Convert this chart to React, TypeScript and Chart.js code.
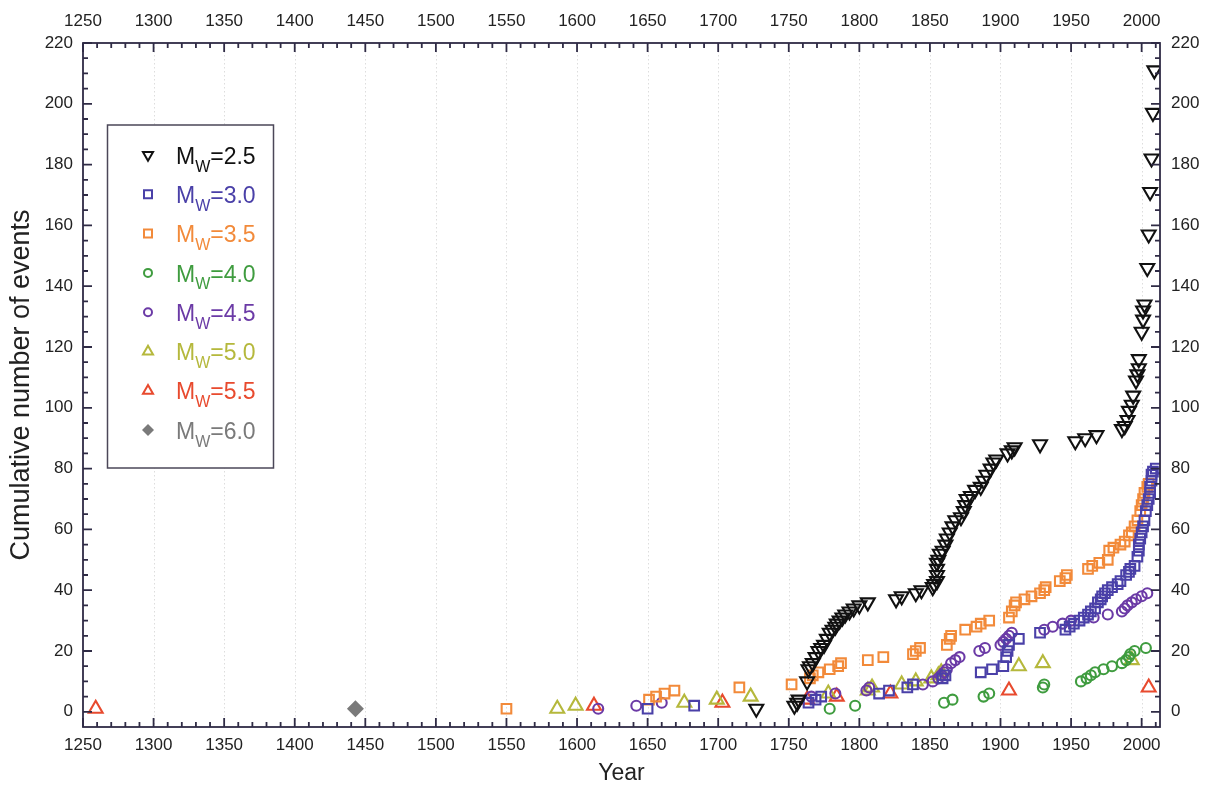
import React, { useEffect, useRef } from 'react';
import { Chart, registerables } from 'chart.js';

Chart.register(...registerables);

const FONT = '"Liberation Sans", Arial, sans-serif';
const AXIS_COLOR = '#2f2b45';
const TEXT_COLOR = '#222222';

const X_MIN = 1250;
const X_MAX = 2013;
const Y_MIN = -5;
const Y_MAX = 220;
const X_TICKS = [1250, 1300, 1350, 1400, 1450, 1500, 1550, 1600, 1650, 1700, 1750, 1800, 1850, 1900, 1950, 2000];
const Y_TICKS = [0, 20, 40, 60, 80, 100, 120, 140, 160, 180, 200, 220];
const X_MINOR_STEP = 10;
const Y_MINOR_STEP = 5;

const MAGNITUDES = ['2.5', '3.0', '3.5', '4.0', '4.5', '5.0', '5.5', '6.0'];

// [year, cumulative number of events]
const MW25: number[][] = [
  [1727, 1], [1754, 2], [1756, 3], [1757, 4], [1763, 10], [1764, 14], [1765, 15], [1767, 16], [1769, 18],
  [1771, 20], [1773, 21], [1775, 22], [1777, 24], [1779, 26], [1781, 27], [1783, 28], [1784, 29], [1786, 30],
  [1788, 31], [1790, 32], [1793, 33], [1796, 34], [1800, 35], [1806, 36], [1826, 37], [1830, 38], [1840, 39],
  [1844, 40], [1852, 41], [1853, 42], [1855, 43], [1855, 45], [1855, 47], [1855, 49], [1856, 50], [1857, 52],
  [1859, 53], [1861, 55], [1862, 57], [1864, 59], [1866, 61], [1868, 63], [1872, 64], [1874, 66], [1875, 68],
  [1876, 70], [1879, 71], [1882, 73], [1886, 74], [1888, 76], [1890, 78], [1893, 80], [1895, 82], [1897, 83],
  [1905, 85], [1908, 86], [1910, 87], [1928, 88], [1953, 89], [1960, 90], [1968, 91], [1986, 93], [1988, 94],
  [1990, 96], [1991, 99], [1993, 101], [1994, 104], [1996, 109], [1997, 111], [1998, 113], [1998, 116],
  [2000, 125], [2001, 129], [2001, 132], [2002, 134], [2004, 146], [2005, 157], [2006, 171], [2007, 182],
  [2008, 197], [2009, 211],
];
const MW30: number[][] = [
  [1650, 1], [1683, 2], [1764, 3], [1769, 4], [1773, 5], [1814, 6], [1821, 7], [1834, 8], [1838, 9], [1859, 11],
  [1861, 12], [1886, 13], [1894, 14], [1902, 15], [1904, 18], [1905, 20], [1906, 22], [1913, 24], [1928, 26],
  [1946, 27], [1949, 28], [1952, 29], [1956, 30], [1959, 31], [1962, 32], [1964, 33], [1967, 34], [1969, 36],
  [1971, 37], [1972, 38], [1974, 39], [1976, 40], [1979, 41], [1983, 42], [1985, 43], [1989, 45], [1991, 46],
  [1992, 47], [1995, 48], [1997, 51], [1998, 53], [1998, 55], [1999, 57], [2000, 59], [2001, 61], [2002, 63],
  [2003, 66], [2004, 68], [2005, 70], [2006, 72], [2006, 74], [2007, 76], [2007, 78], [2008, 79], [2010, 80],
];
const MW35: number[][] = [
  [1550, 1], [1651, 4], [1656, 5], [1662, 6], [1669, 7], [1715, 8], [1752, 9], [1765, 11], [1767, 12], [1771, 13],
  [1779, 14], [1785, 15], [1787, 16], [1806, 17], [1817, 18], [1838, 19], [1840, 20], [1843, 21], [1862, 22],
  [1864, 24], [1865, 25], [1875, 27], [1883, 28], [1886, 29], [1892, 30], [1906, 31], [1908, 33], [1910, 35],
  [1911, 36], [1917, 37], [1922, 38], [1928, 39], [1931, 40], [1932, 41], [1942, 43], [1946, 44], [1947, 45],
  [1962, 47], [1965, 48], [1970, 49], [1976, 50], [1977, 53], [1980, 54], [1985, 55], [1988, 56], [1991, 58],
  [1993, 59], [1995, 61], [1997, 63], [1999, 66], [2000, 68], [2001, 70], [2002, 72], [2004, 74], [2005, 75],
];
const MW40: number[][] = [
  [1779, 1], [1797, 2], [1860, 3], [1866, 4], [1888, 5], [1892, 6], [1930, 8], [1931, 9], [1957, 10], [1961, 11],
  [1964, 12], [1967, 13], [1973, 14], [1979, 15], [1986, 16], [1989, 17], [1991, 18], [1992, 19], [1995, 20],
  [2003, 21],
];
const MW45: number[][] = [
  [1615, 1], [1642, 2], [1660, 3], [1766, 5], [1783, 6], [1805, 7], [1807, 8], [1845, 9], [1852, 10], [1856, 11],
  [1858, 12], [1860, 13], [1862, 14], [1865, 16], [1868, 17], [1871, 18], [1885, 20], [1889, 21], [1900, 22],
  [1902, 23], [1904, 24], [1906, 25], [1908, 26], [1931, 27], [1937, 28], [1944, 29], [1950, 30], [1966, 31],
  [1976, 32], [1986, 33], [1988, 34], [1990, 35], [1993, 36], [1996, 37], [2000, 38], [2004, 39],
];
const MW50: number[][] = [
  [1586, 1], [1599, 2], [1676, 3], [1699, 4], [1723, 5], [1778, 6], [1806, 7], [1809, 8], [1830, 9], [1840, 10],
  [1851, 11], [1856, 12], [1858, 13], [1913, 15], [1930, 16], [1993, 17],
];
const MW55: number[][] = [
  [1259, 1], [1612, 2], [1703, 3], [1763, 4], [1784, 5], [1822, 6], [1906, 7], [2005, 8],
];
const MW60: number[][] = [[1443, 1]];

const SERIES_DATA = [MW25, MW30, MW35, MW40, MW45, MW50, MW55, MW60];
const COLORS = ['#111111', '#4a40a8', '#f28a3a', '#3f9c3f', '#6b3aa6', '#b5b83c', '#e84a2e', '#7a7a7a'];
const STYLES = ['triDown', 'square', 'square', 'circle', 'circle', 'triUp', 'triUp', 'diamond'];

function chartStyle(kind: string) {
  switch (kind) {
    case 'triDown': return { pointStyle: 'triangle', rotation: 180, radius: 8 };
    case 'triUp': return { pointStyle: 'triangle', rotation: 0, radius: 8 };
    case 'square': return { pointStyle: 'rect', rotation: 0, radius: 6.8 };
    case 'circle': return { pointStyle: 'circle', rotation: 0, radius: 5 };
    default: return { pointStyle: 'rectRot', rotation: 0, radius: 7 };
  }
}

function drawSymbol(ctx: CanvasRenderingContext2D, kind: string, x: number, y: number, color: string) {
  ctx.save();
  ctx.strokeStyle = color;
  ctx.fillStyle = color;
  ctx.lineWidth = 2;
  ctx.beginPath();
  const s60 = Math.sin(Math.PI / 3);
  if (kind === 'triDown') {
    const r = 5.8;
    ctx.moveTo(x, y + r);
    ctx.lineTo(x - r * s60, y - r / 2);
    ctx.lineTo(x + r * s60, y - r / 2);
    ctx.closePath();
    ctx.stroke();
  } else if (kind === 'triUp') {
    const r = 5.8;
    ctx.moveTo(x, y - r);
    ctx.lineTo(x - r * s60, y + r / 2);
    ctx.lineTo(x + r * s60, y + r / 2);
    ctx.closePath();
    ctx.stroke();
  } else if (kind === 'square') {
    ctx.rect(x - 4, y - 4, 8, 8);
    ctx.stroke();
  } else if (kind === 'circle') {
    ctx.arc(x, y, 4, 0, Math.PI * 2);
    ctx.stroke();
  } else {
    const r = 6;
    ctx.moveTo(x, y - r);
    ctx.lineTo(x + r, y);
    ctx.lineTo(x, y + r);
    ctx.lineTo(x - r, y);
    ctx.closePath();
    ctx.fill();
  }
  ctx.restore();
}

const framePlugin = {
  id: 'frameTicks',
  beforeDatasetsDraw(chart: any) {
    const { ctx, chartArea } = chart;
    const xs = chart.scales.x;
    ctx.save();
    ctx.strokeStyle = '#dddddd';
    ctx.lineWidth = 1;
    ctx.setLineDash([1.5, 2.5]);
    X_TICKS.forEach((v) => {
      if (v === X_MIN) return;
      const px = Math.round(xs.getPixelForValue(v)) + 0.5;
      ctx.beginPath();
      ctx.moveTo(px, chartArea.top);
      ctx.lineTo(px, chartArea.bottom);
      ctx.stroke();
    });
    ctx.restore();
  },
  afterDatasetsDraw(chart: any) {
    const { ctx, chartArea } = chart;
    const { left, right, top, bottom } = chartArea;
    const xs = chart.scales.x;
    const ys = chart.scales.y;
    ctx.save();
    ctx.strokeStyle = AXIS_COLOR;
    ctx.lineWidth = 1.8;
    ctx.strokeRect(left, top, right - left, bottom - top);
    ctx.beginPath();
    for (let v = X_MIN; v <= X_MAX; v += X_MINOR_STEP) {
      const major = v % 50 === 0;
      const len = major ? 9 : 5;
      const px = xs.getPixelForValue(v);
      ctx.moveTo(px, bottom);
      ctx.lineTo(px, bottom - len);
      ctx.moveTo(px, top);
      ctx.lineTo(px, top + len);
    }
    for (let v = 0; v <= Y_MAX; v += Y_MINOR_STEP) {
      const major = v % 20 === 0;
      const len = major ? 9 : 5;
      const py = ys.getPixelForValue(v);
      ctx.moveTo(left, py);
      ctx.lineTo(left + len, py);
      ctx.moveTo(right, py);
      ctx.lineTo(right - len, py);
    }
    ctx.stroke();
    ctx.restore();
  },
  afterDraw(chart: any) {
    const ctx: CanvasRenderingContext2D = chart.ctx;
    ctx.save();
    const bx = 107.5, by = 125, bw = 166, bh = 343;
    ctx.fillStyle = '#ffffff';
    ctx.fillRect(bx, by, bw, bh);
    ctx.strokeStyle = '#4b4758';
    ctx.lineWidth = 1.5;
    ctx.strokeRect(bx, by, bw, bh);
    MAGNITUDES.forEach((m, i) => {
      const rowY = 155 + i * 39.3;
      const color = COLORS[i];
      drawSymbol(ctx, STYLES[i], 148, rowY, color);
      ctx.fillStyle = color;
      ctx.textBaseline = 'alphabetic';
      ctx.textAlign = 'left';
      let x = 176;
      ctx.font = `23px ${FONT}`;
      ctx.fillText('M', x, rowY + 8.6);
      x += ctx.measureText('M').width;
      ctx.font = `16px ${FONT}`;
      ctx.fillText('W', x, rowY + 16.5);
      x += ctx.measureText('W').width;
      ctx.font = `23px ${FONT}`;
      ctx.fillText('=' + m, x, rowY + 8.6);
    });
    ctx.restore();
  },
};

export default function App() {
  const ref = useRef<HTMLCanvasElement | null>(null);

  useEffect(() => {
    document.body.style.margin = '0';
    const canvas = ref.current;
    if (!canvas) return;

    const datasets = SERIES_DATA.map((pts, i) => {
      const st = chartStyle(STYLES[i]);
      const filled = STYLES[i] === 'diamond';
      return {
        label: 'Mw=' + MAGNITUDES[i],
        data: pts.map(([x, y]) => ({ x, y })),
        showLine: false,
        pointStyle: st.pointStyle,
        pointRotation: st.rotation,
        pointRadius: st.radius,
        pointHoverRadius: st.radius,
        pointBorderColor: COLORS[i],
        pointBackgroundColor: filled ? COLORS[i] : 'rgba(0,0,0,0)',
        pointBorderWidth: 2.1,
        borderColor: COLORS[i],
        backgroundColor: filled ? COLORS[i] : 'rgba(0,0,0,0)',
      };
    });

    const tickFont = { family: FONT, size: 17 };
    const xTicksFn = (s: any) => { s.ticks = X_TICKS.map((v) => ({ value: v })); };
    const yTicksFn = (s: any) => { s.ticks = Y_TICKS.map((v) => ({ value: v })); };
    const fmt = (v: any) => String(v);

    const chart = new Chart(canvas, {
      type: 'scatter',
      data: { datasets: datasets as any },
      options: {
        animation: false,
        responsive: false,
        maintainAspectRatio: false,
        events: [],
        layout: { padding: 0 },
        plugins: { legend: { display: false }, tooltip: { enabled: false } },
        scales: {
          x: {
            type: 'linear', position: 'bottom', min: X_MIN, max: X_MAX,
            grid: { display: false, drawTicks: false }, border: { display: false },
            afterBuildTicks: xTicksFn,
            afterFit: (s: any) => { s.height = 60; },
            ticks: { padding: 8, font: tickFont, color: TEXT_COLOR, autoSkip: false, maxRotation: 0, callback: fmt },
            title: { display: true, text: 'Year', font: { family: FONT, size: 23 }, color: TEXT_COLOR, padding: { top: 0, bottom: 0 } },
          },
          x2: {
            type: 'linear', position: 'top', min: X_MIN, max: X_MAX,
            grid: { display: false, drawTicks: false }, border: { display: false },
            afterBuildTicks: xTicksFn,
            afterFit: (s: any) => { s.height = 43; },
            ticks: { padding: 11, font: tickFont, color: TEXT_COLOR, autoSkip: false, maxRotation: 0, callback: fmt },
          },
          y: {
            type: 'linear', position: 'left', min: Y_MIN, max: Y_MAX,
            grid: { display: false, drawTicks: false }, border: { display: false },
            afterBuildTicks: yTicksFn,
            afterFit: (s: any) => { s.width = 83; },
            ticks: { padding: 10, font: tickFont, color: TEXT_COLOR, autoSkip: false, callback: fmt },
            title: { display: true, text: 'Cumulative number of events', font: { family: FONT, size: 27 }, color: TEXT_COLOR, padding: { top: 5, bottom: 0 } },
          },
          y2: {
            type: 'linear', position: 'right', min: Y_MIN, max: Y_MAX,
            grid: { display: false, drawTicks: false }, border: { display: false },
            afterBuildTicks: yTicksFn,
            afterFit: (s: any) => { s.width = 48; },
            ticks: { padding: 11, font: tickFont, color: TEXT_COLOR, autoSkip: false, callback: fmt },
          },
        },
      } as any,
      plugins: [framePlugin],
    });

    return () => chart.destroy();
  }, []);

  return (
    <div style={{ width: 1208, height: 787 }}>
      <canvas ref={ref} width={1208} height={787} style={{ display: 'block', width: 1208, height: 787 }} />
    </div>
  );
}
